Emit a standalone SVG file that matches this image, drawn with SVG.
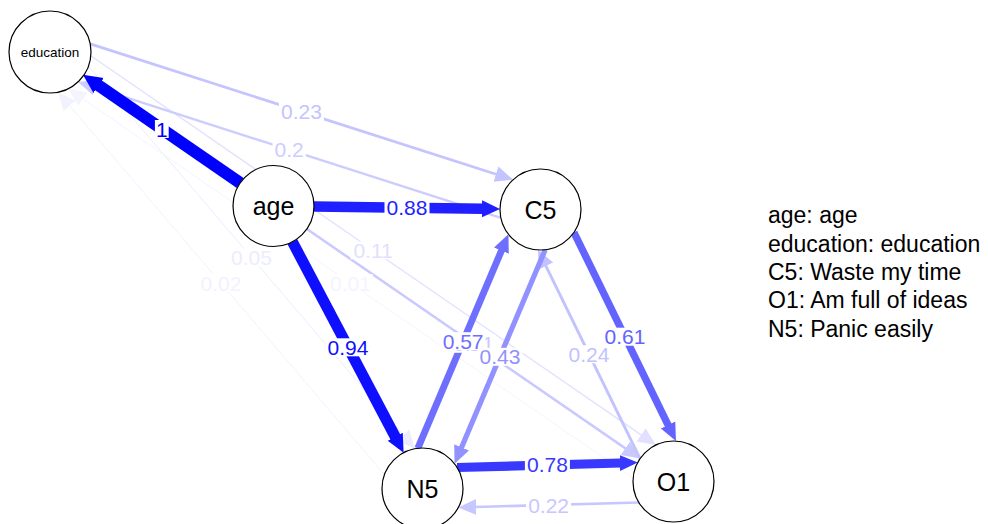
<svg xmlns="http://www.w3.org/2000/svg" width="988" height="524" viewBox="0 0 988 524">
  <style>
    .edge { fill: none; stroke-linecap: butt; }
    .lbl-bg { fill: #ffffff; }
    .lbl { font-family: "Liberation Sans", Arial, sans-serif; font-size: 21px; text-anchor: middle; }
    .node circle { fill: #ffffff; stroke: #000000; stroke-width: 1.2; }
    .node text { font-family: "Liberation Sans", Arial, sans-serif; font-size: 25px; text-anchor: middle; fill: #000000; }
    .legend text { font-family: "Liberation Sans", Arial, sans-serif; font-size: 23px; fill: #000000; }
  </style>
  <defs>
    <!-- arrowheads: base at the line end, tip 17px ahead -->
    <marker id="ah-001" markerUnits="userSpaceOnUse" viewBox="-1 -10 19 20" markerWidth="19" markerHeight="20" refX="0" refY="0" orient="auto"><path d="M-1,-8 L17,0 L-1,8 z" fill="#f4f4ff"/></marker>
    <marker id="ah-002" markerUnits="userSpaceOnUse" viewBox="-1 -10 19 20" markerWidth="19" markerHeight="20" refX="0" refY="0" orient="auto"><path d="M-1,-8 L17,0 L-1,8 z" fill="#f2f2ff"/></marker>
    <marker id="ah-005" markerUnits="userSpaceOnUse" viewBox="-1 -10 19 20" markerWidth="19" markerHeight="20" refX="0" refY="0" orient="auto"><path d="M-1,-8 L17,0 L-1,8 z" fill="#ececff"/></marker>
    <marker id="ah-011" markerUnits="userSpaceOnUse" viewBox="-1 -10 19 20" markerWidth="19" markerHeight="20" refX="0" refY="0" orient="auto"><path d="M-1,-8 L17,0 L-1,8 z" fill="#e1e1ff"/></marker>
    <marker id="ah-020" markerUnits="userSpaceOnUse" viewBox="-1 -10 19 20" markerWidth="19" markerHeight="20" refX="0" refY="0" orient="auto"><path d="M-1,-8 L17,0 L-1,8 z" fill="#ccccff"/></marker>
    <marker id="ah-021" markerUnits="userSpaceOnUse" viewBox="-1 -10 19 20" markerWidth="19" markerHeight="20" refX="0" refY="0" orient="auto"><path d="M-1,-8 L17,0 L-1,8 z" fill="#c9c9ff"/></marker>
    <marker id="ah-022" markerUnits="userSpaceOnUse" viewBox="-1 -10 19 20" markerWidth="19" markerHeight="20" refX="0" refY="0" orient="auto"><path d="M-1,-8 L17,0 L-1,8 z" fill="#c7c7ff"/></marker>
    <marker id="ah-023" markerUnits="userSpaceOnUse" viewBox="-1 -10 19 20" markerWidth="19" markerHeight="20" refX="0" refY="0" orient="auto"><path d="M-1,-8 L17,0 L-1,8 z" fill="#c4c4ff"/></marker>
    <marker id="ah-024" markerUnits="userSpaceOnUse" viewBox="-1 -10 19 20" markerWidth="19" markerHeight="20" refX="0" refY="0" orient="auto"><path d="M-1,-8 L17,0 L-1,8 z" fill="#c2c2ff"/></marker>
    <marker id="ah-043" markerUnits="userSpaceOnUse" viewBox="-1 -10 19 20" markerWidth="19" markerHeight="20" refX="0" refY="0" orient="auto"><path d="M-1,-8 L17,0 L-1,8 z" fill="#9191ff"/></marker>
    <marker id="ah-057" markerUnits="userSpaceOnUse" viewBox="-1 -10 19 20" markerWidth="19" markerHeight="20" refX="0" refY="0" orient="auto"><path d="M-1,-8 L17,0 L-1,8 z" fill="#6e6eff"/></marker>
    <marker id="ah-061" markerUnits="userSpaceOnUse" viewBox="-1 -10 19 20" markerWidth="19" markerHeight="20" refX="0" refY="0" orient="auto"><path d="M-1,-8 L17,0 L-1,8 z" fill="#6363ff"/></marker>
    <marker id="ah-078" markerUnits="userSpaceOnUse" viewBox="-1 -10 19 20" markerWidth="19" markerHeight="20" refX="0" refY="0" orient="auto"><path d="M-1,-8 L17,0 L-1,8 z" fill="#3838ff"/></marker>
    <marker id="ah-088" markerUnits="userSpaceOnUse" viewBox="-1 -10 19 20" markerWidth="19" markerHeight="20" refX="0" refY="0" orient="auto"><path d="M-1,-8.5 L17,0 L-1,8.5 z" fill="#1f1fff"/></marker>
    <marker id="ah-094" markerUnits="userSpaceOnUse" viewBox="-1 -10 19 20" markerWidth="19" markerHeight="20" refX="0" refY="0" orient="auto"><path d="M-1,-8.5 L17,0 L-1,8.5 z" fill="#0f0fff"/></marker>
    <marker id="ah-100" markerUnits="userSpaceOnUse" viewBox="-1 -10 20 20" markerWidth="20" markerHeight="20" refX="0" refY="0" orient="auto"><path d="M-1,-9 L18,0 L-1,9 z" fill="#0000ff"/></marker>
  </defs>

  <rect x="0" y="0" width="988" height="524" fill="#ffffff"/>

  <!-- connectors, weakest first -->
  <g id="edges">
    <line id="O1-education" class="edge" x1="633.2" y1="478.0" x2="82.1" y2="98.4" stroke="#f4f4ff" stroke-width="1" marker-end="url(#ah-001)"/>
    <line id="N5-education" class="edge" x1="384.4" y1="474.7" x2="69.1" y2="105.1" stroke="#f2f2ff" stroke-width="1" marker-end="url(#ah-002)"/>
    <line id="education-N5" class="edge" x1="88.5" y1="66.3" x2="403.8" y2="435.8" stroke="#ececff" stroke-width="1" marker-end="url(#ah-005)"/>
    <line id="education-O1" class="edge" x1="90.8" y1="55.8" x2="641.9" y2="435.4" stroke="#e1e1ff" stroke-width="1.3" marker-end="url(#ah-011)"/>
    <line id="C5-education" class="edge" x1="500.9" y1="217.8" x2="94.2" y2="87.2" stroke="#ccccff" stroke-width="2.4" marker-end="url(#ah-020)"/>
    <line id="age-O1" class="edge" x1="306.9" y1="229.0" x2="626.1" y2="448.9" stroke="#c9c9ff" stroke-width="2.5" marker-end="url(#ah-021)"/>
    <line id="O1-N5" class="edge" x1="638.9" y1="502.5" x2="475.3" y2="507.0" stroke="#c7c7ff" stroke-width="2.6" marker-end="url(#ah-022)"/>
    <line id="education-C5" class="edge" x1="90.2" y1="43.9" x2="496.9" y2="174.5" stroke="#c4c4ff" stroke-width="2.8" marker-end="url(#ah-023)"/>
    <line id="O1-C5" class="edge" x1="640.1" y1="458.7" x2="545.5" y2="265.2" stroke="#c2c2ff" stroke-width="2.9" marker-end="url(#ah-024)"/>
    <line id="C5-N5" class="edge" x1="545.2" y1="249.7" x2="461.2" y2="448.2" stroke="#9191ff" stroke-width="5.2" marker-end="url(#ah-043)"/>
    <line id="N5-C5" class="edge" x1="417.8" y1="448.3" x2="501.8" y2="249.8" stroke="#6e6eff" stroke-width="6.8" marker-end="url(#ah-057)"/>
    <line id="C5-O1" class="edge" x1="573.9" y1="232.3" x2="668.5" y2="425.8" stroke="#6363ff" stroke-width="7.3" marker-end="url(#ah-061)"/>
    <line id="N5-O1" class="edge" x1="457.1" y1="467.5" x2="620.8" y2="463.0" stroke="#3838ff" stroke-width="9.2" marker-end="url(#ah-078)"/>
    <line id="age-C5" class="edge" x1="314.0" y1="206.5" x2="483.0" y2="208.75" stroke="#1f1fff" stroke-width="10.4" marker-end="url(#ah-088)"/>
    <line id="age-N5" class="edge" x1="292.4" y1="241.8" x2="395.7" y2="437.6" stroke="#0f0fff" stroke-width="11" marker-end="url(#ah-094)"/>
    <line id="age-education" class="edge" x1="240.2" y1="183.0" x2="97.8" y2="84.9" stroke="#0000ff" stroke-width="12" marker-end="url(#ah-100)"/>
  </g>

  <!-- edge weights on white plates -->
  <g id="edge-labels">
    <rect class="lbl-bg" x="328" y="274.2" width="45" height="18"/>
    <text class="lbl" x="350.4" y="290.7" fill="#f4f4ff">0.01</text>
    <rect class="lbl-bg" x="198.5" y="274.2" width="45" height="18"/>
    <text class="lbl" x="221.0" y="290.7" fill="#f2f2ff">0.02</text>
    <rect class="lbl-bg" x="229" y="248.3" width="45" height="18"/>
    <text class="lbl" x="251.5" y="264.8" fill="#ececff">0.05</text>
    <rect class="lbl-bg" x="350.6" y="241.3" width="45" height="18"/>
    <text class="lbl" x="373.1" y="257.8" fill="#e1e1ff">0.11</text>
    <rect class="lbl-bg" x="272.5" y="140.8" width="33.2" height="18"/>
    <text class="lbl" x="289.1" y="157.3" fill="#ccccff">0.2</text>
    <rect class="lbl-bg" x="451" y="334.8" width="45" height="18"/>
    <text class="lbl" x="473.5" y="351.3" fill="#c9c9ff">0.21</text>
    <rect class="lbl-bg" x="526.1" y="496.0" width="45" height="18"/>
    <text class="lbl" x="548.6" y="512.5" fill="#c7c7ff">0.22</text>
    <rect class="lbl-bg" x="278.9" y="102.7" width="45" height="18"/>
    <text class="lbl" x="301.4" y="119.2" fill="#c4c4ff">0.23</text>
    <rect class="lbl-bg" x="566.5" y="345.3" width="45" height="18"/>
    <text class="lbl" x="589.0" y="361.8" fill="#c2c2ff">0.24</text>
    <rect class="lbl-bg" x="477.4" y="347.8" width="45" height="18"/>
    <text class="lbl" x="499.9" y="364.3" fill="#9191ff">0.43</text>
    <rect class="lbl-bg" x="440.6" y="332.2" width="45" height="18"/>
    <text class="lbl" x="463.1" y="348.7" fill="#6e6eff">0.57</text>
    <rect class="lbl-bg" x="602.5" y="327.7" width="45" height="18"/>
    <text class="lbl" x="625.0" y="344.2" fill="#6363ff">0.61</text>
    <rect class="lbl-bg" x="524.9" y="455.5" width="45" height="18"/>
    <text class="lbl" x="547.4" y="472.0" fill="#3838ff">0.78</text>
    <rect class="lbl-bg" x="384.5" y="198.8" width="45" height="18"/>
    <text class="lbl" x="407.0" y="215.3" fill="#1f1fff">0.88</text>
    <rect class="lbl-bg" x="325.5" y="338.3" width="45" height="18"/>
    <text class="lbl" x="348.0" y="354.8" fill="#0f0fff">0.94</text>
    <rect class="lbl-bg" x="154.9" y="120.0" width="13.8" height="18"/>
    <text class="lbl" x="161.8" y="136.5" fill="#0000ff">1</text>
  </g>

  <!-- nodes -->
  <g id="node-education" class="node">
    <circle cx="50" cy="52" r="41"/>
    <text x="50" y="57" style="font-size:13.5px">education</text>
  </g>
  <g id="node-age" class="node">
    <circle cx="273.5" cy="206" r="40.5"/>
    <text x="273.5" y="215">age</text>
  </g>
  <g id="node-C5" class="node">
    <circle cx="540.5" cy="209.5" r="40.5"/>
    <text x="540.5" y="218.5">C5</text>
  </g>
  <g id="node-N5" class="node">
    <circle cx="422.5" cy="488.5" r="40.5"/>
    <text x="422.5" y="497.5">N5</text>
  </g>
  <g id="node-O1" class="node">
    <circle cx="673.5" cy="481.5" r="40.5"/>
    <text x="673.5" y="490.5">O1</text>
  </g>

  <!-- legend -->
  <g id="legend" class="legend">
    <text x="768" y="223">age: age</text>
    <text x="768" y="251.5">education: education</text>
    <text x="768" y="280">C5: Waste my time</text>
    <text x="768" y="308.3">O1: Am full of ideas</text>
    <text x="768" y="336.7">N5: Panic easily</text>
  </g>
</svg>
